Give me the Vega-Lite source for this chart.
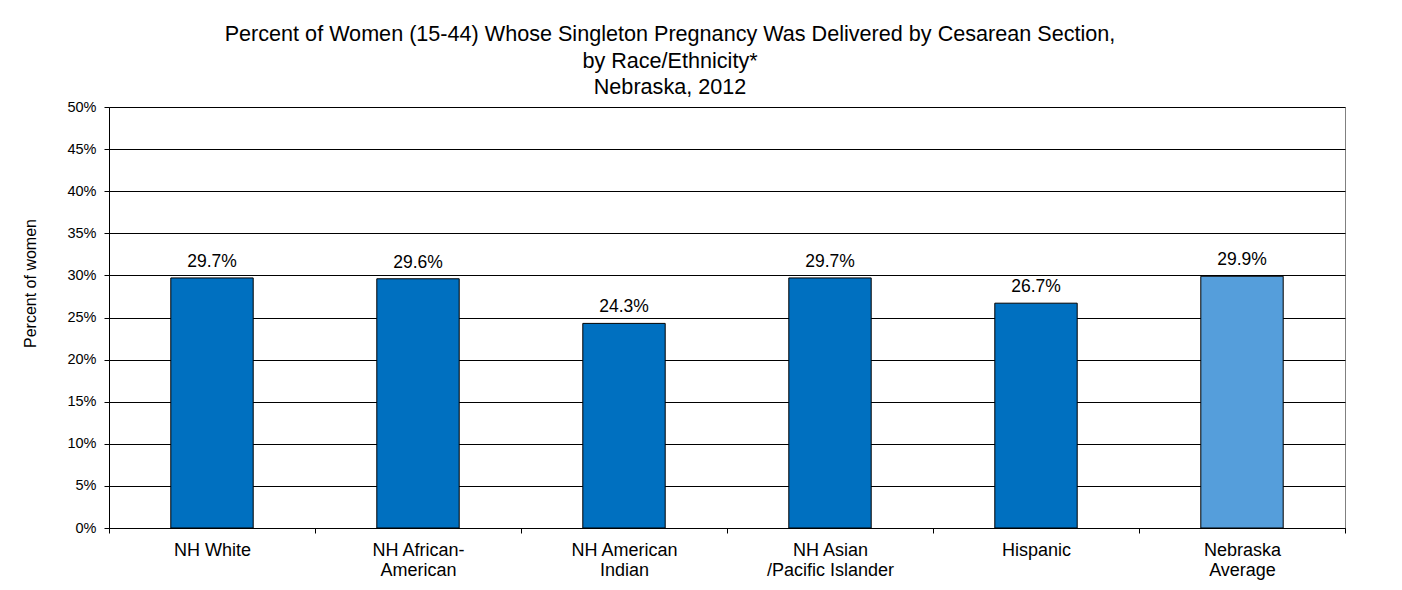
{
  "$schema": "https://vega.github.io/schema/vega-lite/v6.json",
  "autosize": "none",
  "width": 1236,
  "height": 421,
  "padding": {"left": 109, "top": 107, "right": 57, "bottom": 62},
  "background": "white",
  "title": {
    "text": ["Percent of Women (15-44) Whose Singleton Pregnancy Was Delivered by Cesarean Section,", "by Race/Ethnicity*", "Nebraska, 2012"],
    "fontSize": 21.6,
    "fontWeight": "normal",
    "font": "Liberation Sans",
    "color": "#000000",
    "lineHeight": 26.7,
    "anchor": "middle",
    "frame": "group",
    "dx": -57,
    "offset": 0
  },
  "data": {
    "values": [
      {"group": "NH White", "kind": "Race", "pct": 0.297},
      {"group": "NH African-|American", "kind": "Race", "pct": 0.296},
      {"group": "NH American|Indian", "kind": "Race", "pct": 0.243},
      {"group": "NH Asian|/Pacific Islander", "kind": "Race", "pct": 0.297},
      {"group": "Hispanic", "kind": "Race", "pct": 0.267},
      {"group": "Nebraska|Average", "kind": "State", "pct": 0.299}
    ]
  },
  "encoding": {
    "x": {
      "field": "group",
      "type": "nominal",
      "sort": null,
      "scale": {"paddingInner": 0, "paddingOuter": 0},
      "axis": {
        "title": null,
        "labelAngle": 0,
        "labelExpr": "datum.value ? split(datum.value, '|') : ''",
        "labelFontSize": 18,
        "labelLineHeight": 20,
        "labelColor": "#000000",
        "labelPadding": 8,
        "ticks": true,
        "tickBand": "extent",
        "tickSize": 5,
        "tickColor": "#000000",
        "tickWidth": 1,
        "domainColor": "#000000",
        "grid": false
      }
    },
    "y": {
      "field": "pct",
      "type": "quantitative",
      "scale": {"domain": [0, 0.5], "nice": false},
      "axis": {
        "values": [0, 0.05, 0.1, 0.15, 0.2, 0.25, 0.3, 0.35, 0.4, 0.45, 0.5],
        "format": ".0%",
        "labelFontSize": 14.5,
        "labelColor": "#000000",
        "labelPadding": 8,
        "tickSize": 5,
        "tickColor": "#000000",
        "domainColor": "#000000",
        "grid": true,
        "gridColor": "#000000",
        "gridOpacity": 1,
        "title": "Percent of women",
        "titleFontSize": 16,
        "titleFontWeight": "normal",
        "titleColor": "#000000",
        "titlePadding": 28,
        "titleY": 176
      }
    }
  },
  "layer": [
    {
      "mark": {"type": "bar", "stroke": "#000000", "strokeWidth": 1, "width": {"band": 0.4}},
      "encoding": {
        "color": {
          "field": "kind",
          "type": "nominal",
          "scale": {"domain": ["Race", "State"], "range": ["#0070C0", "#559edb"]},
          "legend": null
        }
      }
    },
    {
      "mark": {"type": "text", "baseline": "alphabetic", "dy": -11, "fontSize": 17.5, "stroke": "white", "strokeWidth": 4, "fill": "white"},
      "encoding": {"text": {"field": "pct", "format": ".1%"}}
    },
    {
      "mark": {"type": "text", "baseline": "alphabetic", "dy": -11, "fontSize": 17.5, "fill": "#000000"},
      "encoding": {"text": {"field": "pct", "format": ".1%"}}
    }
  ],
  "config": {
    "font": "Liberation Sans",
    "view": {"stroke": "#808080", "strokeWidth": 1},
    "axis": {"labelFont": "Liberation Sans", "titleFont": "Liberation Sans"}
  }
}
